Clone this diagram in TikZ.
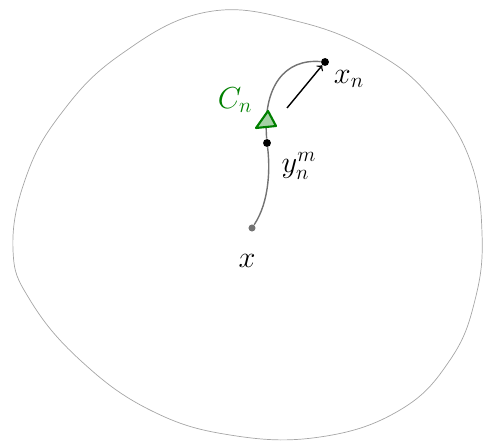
\documentclass[tikz,border=0pt]{standalone}
\usetikzlibrary{positioning}
\colorlet{figSet} {gray!70}
\colorlet{figPath}{gray!90!black}
\colorlet{figCone}{green!50!black}
\tikzset{pt/.style={circle, fill=black, inner sep=0pt, minimum size=4.5pt}}

\begin{document}
\begin{tikzpicture}
        \useasboundingbox (0,0) rectangle (9.76,8.92);
        % the set
        \draw[figSet, thin] plot[smooth cycle, tension=0.7] coordinates {
              (4.14,8.68) (6.00,8.48) (7.60,7.82) (8.66,6.92) (9.40,5.72)
              (9.64,4.26) (9.50,2.92) (9.00,1.72) (8.00,0.72) (6.40,0.18)
              (4.60,0.22) (3.00,0.72) (1.60,1.72) (0.60,2.92) (0.26,3.92)
              (0.50,5.32) (1.20,6.62) (2.40,7.82)};
        % points
        \node[pt, fill=figPath, minimum size=4pt] (x) at (5.04,4.36) {};
        \node[pt] (ynm) at (5.34,6.06) {};
        \node[pt] (xn) at (6.50,7.68) {};
        \draw[figPath, thick] (x) .. controls (5.40,4.90) and (5.40,5.60) .. (ynm)
              .. controls (5.25,7.20) and (5.70,7.75) .. (xn);
        % cone
        \draw[figCone, very thick, fill=figCone!35, line join=round]
              (5.36,6.70) -- (5.12,6.36) -- (5.52,6.40) -- cycle;
        \coordinate (a) at (5.74,6.76);
        \draw[->, thick] (a) -- (xn);
        % labels
        \node[font=\LARGE, figCone] (cn) at (4.70,6.92) {$C_n$};
        \node[font=\LARGE] (xnlab) at (6.98,7.34) {$x_n$};
        \node[font=\LARGE] (ynmlab) at (5.98,5.60) {$y_n^m$};
        \node[font=\LARGE] (xlab) at (4.94,3.70) {$x$};
      \end{tikzpicture}
\end{document}
